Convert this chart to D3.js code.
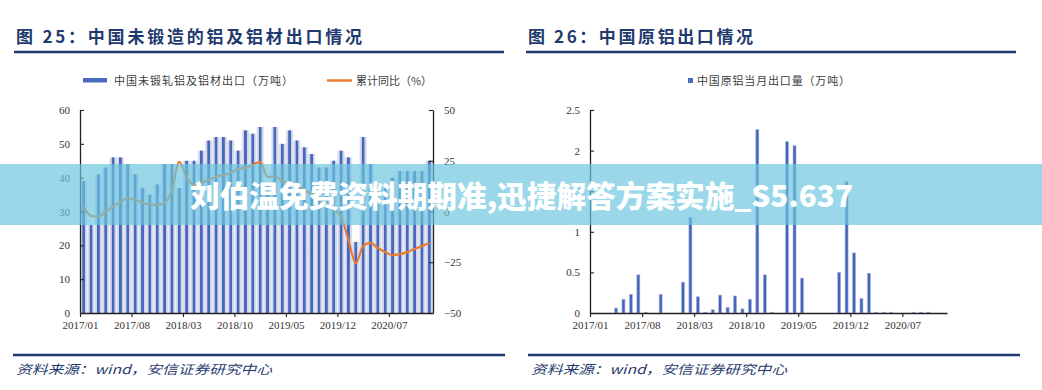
<!DOCTYPE html>
<html><head><meta charset="utf-8">
<script src="https://cdn.jsdelivr.net/npm/d3@7"></script>
<style>
html,body{margin:0;padding:0;background:#fff;}
svg{display:block;}
</style></head>
<body>
<svg id="c" width="1042" height="390"></svg>
<script>
// ---------- data ----------
const months = [];
for (let y = 2017; y <= 2020; y++) for (let m = 1; m <= 12; m++) months.push(y + "/" + String(m).padStart(2, "0"));
const tickMonths = ["2017/01","2017/08","2018/03","2018/10","2019/05","2019/12","2020/07"];

// Fig 25: unwrought aluminium & products exports (10k t)
const exportVol = [39,26,41,43,46,46,44,41,37,35,38,44,
                   44,37,45,45,48,51,52,52,51,48,54,53,
                   55,38,55,50,54,51,49,47,43,43,45,48,
                   46,21,52,44,38,37,40,42,42,42,42,45];
// cumulative YoY (%)
const cumYoY = [2.4,-2.2,-2.5,-0.1,2.4,4.8,6.5,5.7,4.3,3.5,3.2,4.3,
                10.6,24.5,17,13,14,15.5,17,18,19,21,21.5,23,
                24.5,17,17.5,15,14,12.5,10.5,8.5,6,4,1,-2.5,
                -14,-25.5,-17,-15.5,-18,-20,-21.5,-21,-20,-18.5,-17,-15.5];
const leftTicks = [0,10,20,30,40,50,60];
const rightTicks = [-50,-25,0,25,50];

// Fig 26: primary aluminium monthly exports (10k t)
const primaryExp = [0,0,0,0.06,0.17,0.23,0.47,0.01,0,0.23,0,0,
                    0.38,1.18,0.2,0.01,0.04,0.22,0.07,0.21,0.05,0.17,2.26,0.47,
                    0.01,0,2.11,2.06,0.43,0,0,0,0,0.5,1.62,0.74,
                    0.18,0.49,0.01,0.01,0.01,0,0,0.01,0.01,0.01,0,0];
const r2Ticks = [0,0.5,1,1.5,2,2.5];

// ---------- drawing ----------
const svg = d3.select("#c");
const navy = "#1f3a6e";
const serif = "'Liberation Serif','Times New Roman',serif";
const cjk = "'Noto Sans CJK SC','Noto Sans',sans-serif";

const defs = svg.append("defs");
const g1 = defs.append("linearGradient").attr("id","barGrad").attr("x1","0").attr("x2","1").attr("y1","0").attr("y2","0");
[[0,"#e3e5f3"],[0.27,"#ccd1ea"],[0.37,"#4767b8"],[0.63,"#4767b8"],[0.73,"#ccd1ea"],[1,"#e3e5f3"]]
  .forEach(([o,c]) => g1.append("stop").attr("offset",o).attr("stop-color",c));

// titles & rules
function header(x, x2, text, len) {
  svg.append("text").attr("x", x).attr("y", 43).attr("font-family", cjk).attr("font-weight", 700)
    .attr("font-size", 17).attr("fill", navy).attr("textLength", len).attr("lengthAdjust","spacing").text(text);
  svg.append("line").attr("x1", x - 2).attr("x2", x2).attr("y1", 52).attr("y2", 52)
    .attr("stroke", navy).attr("stroke-width", 2.5);
}
header(16, 504, "图 25：中国未锻造的铝及铝材出口情况", 346);
header(528, 1016, "图 26：中国原铝出口情况", 225);

function footer(x, x2) {
  svg.append("line").attr("x1", x).attr("x2", x2).attr("y1", 355).attr("y2", 355)
    .attr("stroke", navy).attr("stroke-width", 2.5);
  svg.append("text").attr("x", x + 3).attr("y", 374).attr("font-family", cjk).attr("font-style","italic")
    .attr("font-size", 12.5).attr("fill", navy).attr("textLength", 256).attr("lengthAdjust","spacingAndGlyphs")
    .text("资料来源：wind，安信证券研究中心");
}
footer(13, 505);
footer(528, 1020);

// ---- left chart ----
const xL = d3.scaleBand().domain(months).range([80, 433]).padding(0);
const xLt = d3.scaleLinear().domain([0, months.length]).range([80, 433]);
const yL = d3.scaleLinear().domain([0, 60]).range([313, 110]);
const yR = d3.scaleLinear().domain([-50, 50]).range([313, 110]);

svg.append("g").selectAll("rect").data(exportVol).join("rect")
  .attr("x", (d,i) => xL(months[i])).attr("width", xL.bandwidth())
  .attr("y", d => yL(d)).attr("height", d => yL(0) - yL(d))
  .attr("fill", "url(#barGrad)");

const line = d3.line().x((d,i) => xL(months[i]) + xL.bandwidth()/2).y(d => yR(d)).curve(d3.curveMonotoneX);
svg.append("path").datum(cumYoY).attr("d", line).attr("fill","none")
  .attr("stroke","#e97c30").attr("stroke-width", 2.2);

function styleAxis(g) {
  g.select(".domain").attr("stroke","#222").attr("stroke-width",1.3);
  g.selectAll(".tick line").attr("stroke","#222").attr("stroke-width",1.1);
  g.selectAll("text").attr("font-family", serif).attr("font-size", 11).attr("fill","#333");
}
svg.append("g").attr("transform","translate(80,0)")
  .call(d3.axisLeft(yL).tickValues(leftTicks).tickSize(-4).tickSizeOuter(0).tickPadding(10)).call(styleAxis);
svg.append("g").attr("transform","translate(433,0)")
  .call(d3.axisRight(yR).tickValues(rightTicks).tickSize(-4).tickSizeOuter(0).tickPadding(11)).call(styleAxis);
svg.append("g").attr("transform","translate(0,313)")
  .call(d3.axisBottom(xLt).tickValues(tickMonths.map(m => months.indexOf(m)))
    .tickFormat(i => months[i]).tickSize(4).tickSizeOuter(0).tickPadding(4)).call(styleAxis);

// left legend
svg.append("rect").attr("x",83).attr("y",78).attr("width",24).attr("height",4.5).attr("fill","#4a6cc0");
svg.append("text").attr("x",114).attr("y",84.5).attr("font-family",cjk).attr("font-size",11).attr("fill","#404040")
  .attr("textLength",179).attr("lengthAdjust","spacing").text("中国未锻轧铝及铝材出口（万吨）");
svg.append("line").attr("x1",327).attr("x2",352).attr("y1",80.5).attr("y2",80.5).attr("stroke","#ed7d31").attr("stroke-width",2.5);
svg.append("text").attr("x",356).attr("y",84.5).attr("font-family",cjk).attr("font-size",11).attr("fill","#404040")
  .attr("textLength",76).attr("lengthAdjust","spacing").text("累计同比（%）");

// ---- right chart ----
const xR = d3.scaleBand().domain(months).range([590, 947]).padding(0);
const xRt = d3.scaleLinear().domain([0, months.length]).range([590, 947]);
const yR2 = d3.scaleLinear().domain([0, 2.5]).range([313, 110]);
const bw = 3;
svg.append("g").selectAll("rect").data(primaryExp).join("rect")
  .attr("x", (d,i) => xR(months[i]) + xR.bandwidth()/2 - bw/2).attr("width", bw)
  .attr("y", d => yR2(d)).attr("height", d => yR2(0) - yR2(d))
  .attr("fill", "#4566b8").attr("stroke","#a9b6df").attr("stroke-width",0.6);

svg.append("g").attr("transform","translate(590,0)")
  .call(d3.axisLeft(yR2).tickValues(r2Ticks).tickFormat(d3.format("~g")).tickSize(-4).tickSizeOuter(0).tickPadding(10)).call(styleAxis);
svg.append("g").attr("transform","translate(0,313)")
  .call(d3.axisBottom(xRt).tickValues(tickMonths.map(m => months.indexOf(m)))
    .tickFormat(i => months[i]).tickSize(4).tickSizeOuter(0).tickPadding(4)).call(styleAxis);

svg.append("rect").attr("x",688).attr("y",78).attr("width",5).attr("height",5).attr("fill","#4a6cc0");
svg.append("text").attr("x",697).attr("y",84.5).attr("font-family",cjk).attr("font-size",11).attr("fill","#404040")
  .attr("textLength",153).attr("lengthAdjust","spacing").text("中国原铝当月出口量（万吨）");

// ---- overlay banner ----
svg.append("rect").attr("x",0).attr("y",164).attr("width",1042).attr("height",61)
  .attr("fill","rgb(106,197,223)").attr("fill-opacity",0.68);
svg.append("text").attr("x",190).attr("y",207).attr("font-family",cjk).attr("font-weight",900)
  .attr("font-size",30).attr("fill","#fff").attr("textLength",663).attr("lengthAdjust","spacingAndGlyphs")
  .text("刘伯温免费资料期期准,迅捷解答方案实施_S5.637");
</script>
</body></html>
